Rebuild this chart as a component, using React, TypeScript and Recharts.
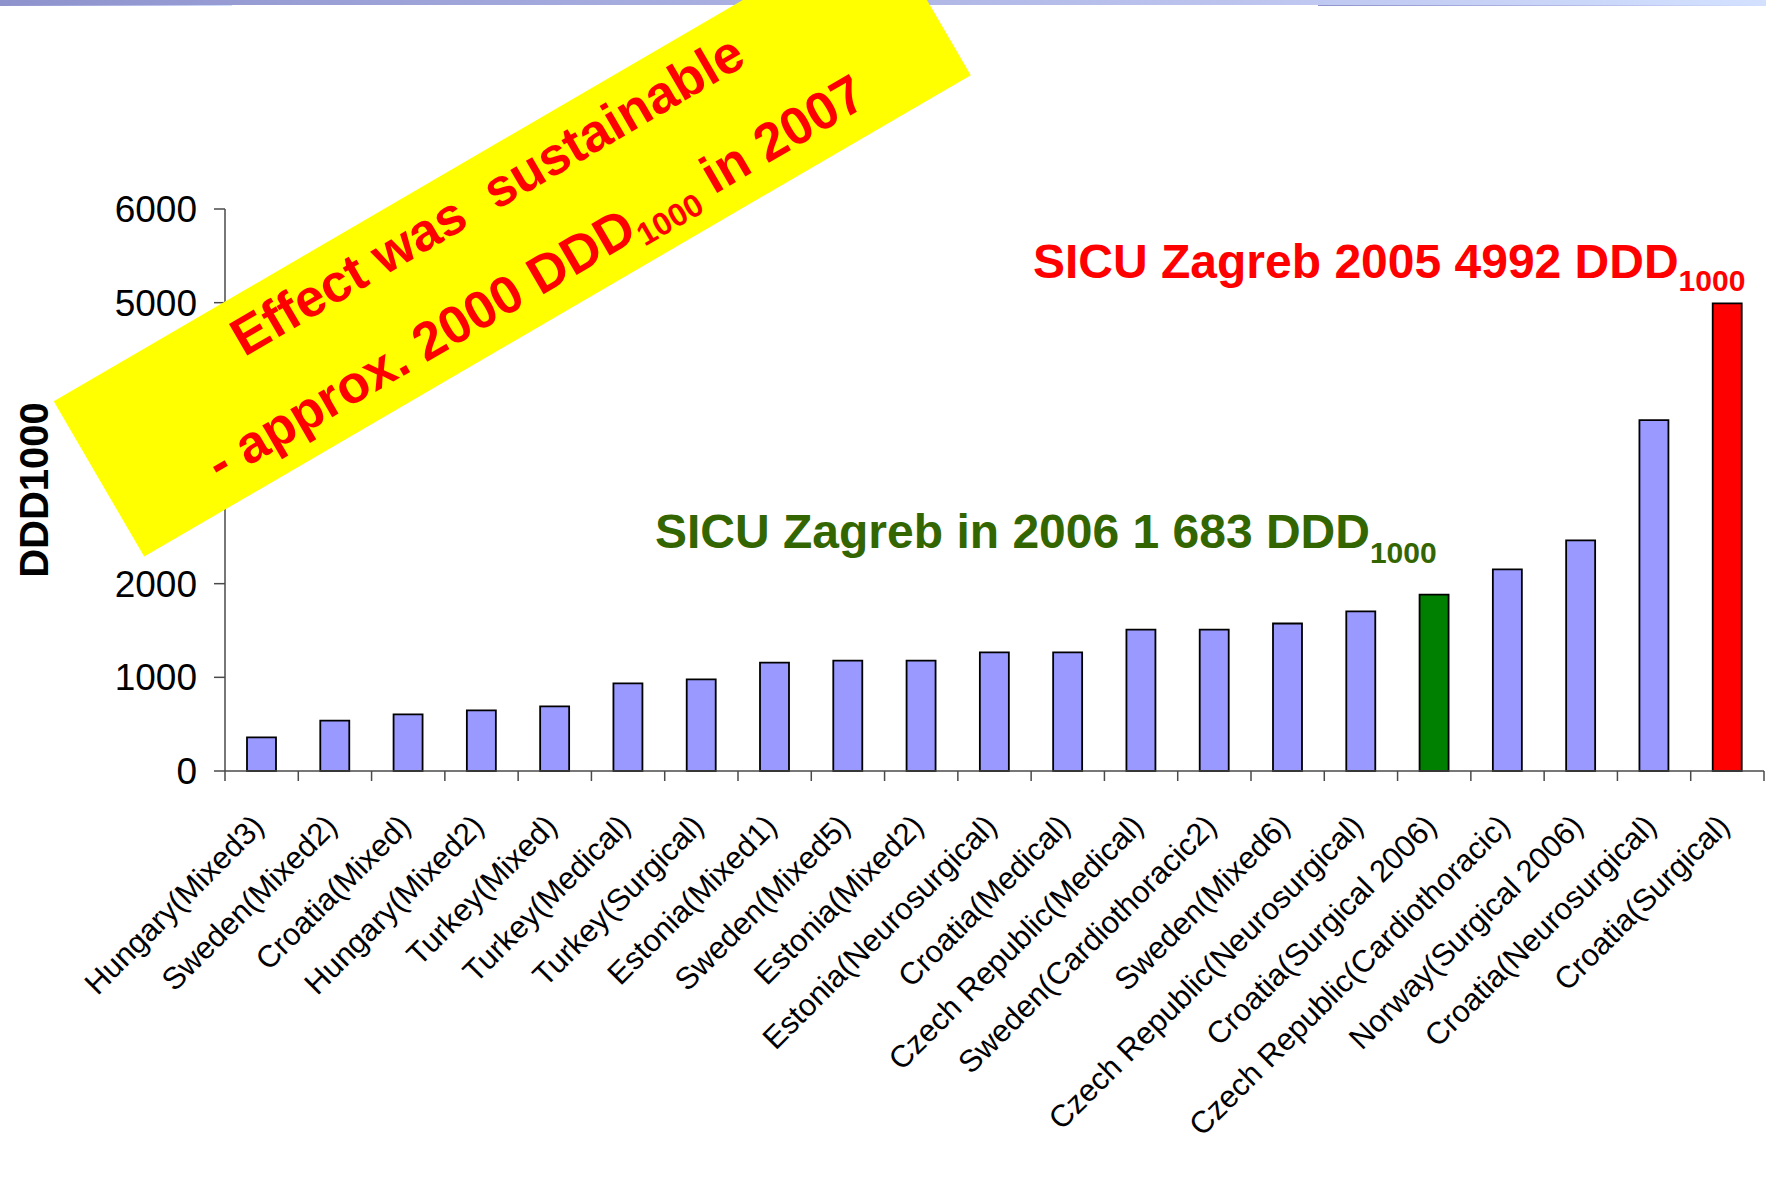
import React from 'react';
import { BarChart, Bar, Cell, XAxis, YAxis } from 'recharts';

const categories = [
  'Hungary(Mixed3)',
  'Sweden(Mixed2)',
  'Croatia(Mixed)',
  'Hungary(Mixed2)',
  'Turkey(Mixed)',
  'Turkey(Medical)',
  'Turkey(Surgical)',
  'Estonia(Mixed1)',
  'Sweden(Mixed5)',
  'Estonia(Mixed2)',
  'Estonia(Neurosurgical)',
  'Croatia(Medical)',
  'Czech Republic(Medical)',
  'Sweden(Cardiothoracic2)',
  'Sweden(Mixed6)',
  'Czech Republic(Neurosurgical)',
  'Croatia(Surgical 2006)',
  'Czech Republic(Cardiothoracic)',
  'Norway(Surgical 2006)',
  'Croatia(Neurosurgical)',
  'Croatia(Surgical)',
];

const ddd1000 = [
  360, 537, 605, 648, 690, 936, 979, 1156, 1178, 1178, 1267,
  1267, 1510, 1510, 1575, 1705, 1884, 2152, 2462, 3746, 4992,
];

const yTicks = [0, 1000, 2000, 3000, 4000, 5000, 6000];

// bars picked out by colour
const highlighted: Record<string, string> = {
  'Croatia(Surgical 2006)': '#008000',
  'Croatia(Surgical)': '#FF0000',
};

const data = categories.map((name, i) => ({ name, value: ddd1000[i] }));

const W = 1766;
const H = 1177;
const MARGIN = { top: 209, right: 2, left: 0, bottom: 106 };
const Y_AXIS_W = 225;
const X_AXIS_H = 300;
const BAND = (W - MARGIN.left - MARGIN.right - Y_AXIS_W) / categories.length;
const FONT = '"Liberation Sans", Arial, Helvetica, sans-serif';
const AXIS = '#4a4a4a';
const BAR_FILL = '#9999FF';

const CategoryTick = (props: any) => {
  const { x, y, payload, index } = props;
  const half = BAND / 2;
  const tx = x + 4;
  const ty = y + 57;
  return (
    <g>
      <line x1={x - half} y1={y} x2={x - half} y2={y + 10} stroke={AXIS} strokeWidth={1.5} />
      {index === categories.length - 1 && (
        <line x1={x + half} y1={y} x2={x + half} y2={y + 10} stroke={AXIS} strokeWidth={1.5} />
      )}
      <text
        x={tx}
        y={ty}
        textAnchor="end"
        transform={`rotate(-45, ${tx}, ${ty})`}
        fontSize={31}
        fontFamily={FONT}
        fill="#000"
      >
        {payload.value}
      </text>
    </g>
  );
};

export default function App() {
  return (
    <div
      style={{
        position: 'absolute',
        left: 0,
        top: 0,
        width: W,
        height: H,
        background: '#fff',
        fontFamily: FONT,
      }}
    >
      <BarChart width={W} height={H} data={data} margin={MARGIN}>
        <XAxis
          dataKey="name"
          interval={0}
          height={X_AXIS_H}
          tickLine={false}
          tickSize={0}
          tickMargin={0}
          axisLine={{ stroke: AXIS, strokeWidth: 1.5 }}
          tick={(p: any) => <CategoryTick {...p} />}
        />
        <YAxis
          width={Y_AXIS_W}
          domain={[0, 6000]}
          ticks={yTicks}
          interval={0}
          tickSize={11}
          tickMargin={17}
          axisLine={{ stroke: AXIS, strokeWidth: 1.5 }}
          tickLine={{ stroke: AXIS, strokeWidth: 1.5 }}
          tick={{ fontSize: 37, fill: '#000', fontFamily: FONT }}
        />
        <Bar
          dataKey="value"
          barSize={29}
          fill={BAR_FILL}
          stroke="#000"
          strokeWidth={1.8}
          isAnimationActive={false}
        >
          {data.map((d) => (
            <Cell key={d.name} fill={highlighted[d.name] ?? BAR_FILL} />
          ))}
        </Bar>
      </BarChart>

      {/* slide decorations and callouts drawn on top of the chart */}
      <svg
        width={W}
        height={H}
        style={{ position: 'absolute', left: 0, top: 0, pointerEvents: 'none' }}
        fontFamily={FONT}
      >
        <defs>
          <linearGradient id="topbar" x1="0" x2="1" y1="0" y2="0">
            <stop offset="0" stopColor="#8E93CD" />
            <stop offset="0.7" stopColor="#BCC4EE" />
            <stop offset="1" stopColor="#D3E1FF" />
          </linearGradient>
        </defs>
        <rect x={0} y={0} width={W} height={5} fill="url(#topbar)" />
        <rect x={0} y={5} width={232} height={1} fill="url(#topbar)" />
        <rect x={1318} y={5} width={W - 1318} height={1} fill="url(#topbar)" />

        <text
          x={34}
          y={490}
          transform="rotate(-90, 34, 490)"
          textAnchor="middle"
          dominantBaseline="central"
          fontSize={40}
          fontWeight="bold"
          fill="#000"
        >
          DDD1000
        </text>

        <text x={1033} y={278} fontSize={48} fontWeight="bold" fill="#FF0000">
          SICU Zagreb 2005 4992 DDD
          <tspan fontSize={30} dy={13}>1000</tspan>
        </text>

        <text x={655} y={548} fontSize={48} fontWeight="bold" fill="#336600">
          SICU Zagreb in 2006 1 683 DDD
          <tspan fontSize={30} dy={15}>1000</tspan>
        </text>

        <g transform="translate(512.25, 238.25) rotate(-30.22)">
          <rect x={-478.25} y={-89.85} width={956.5} height={179.7} fill="#FFFF00" />
          <text
            x={0}
            y={-32}
            textAnchor="middle"
            fontSize={53}
            fontWeight="bold"
            fill="#FF0000"
            style={{ whiteSpace: 'pre' }}
          >
            {'Effect was  sustainable'}
          </text>
          <text x={0} y={64} textAnchor="middle" fontSize={53} fontWeight="bold" fill="#FF0000">
            - approx. 2000 DDD
            <tspan fontSize={32} dy={10}>1000</tspan>
            <tspan dy={-10}> in 2007</tspan>
          </text>
        </g>
      </svg>
    </div>
  );
}
